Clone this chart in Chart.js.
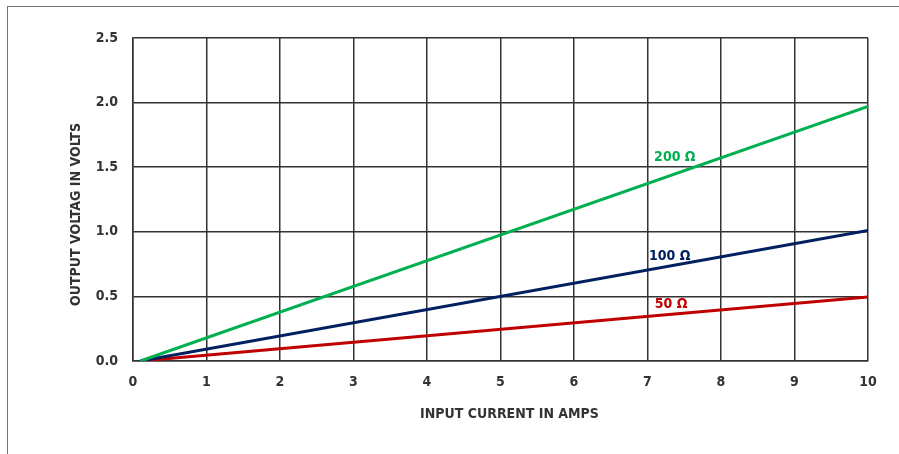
<!DOCTYPE html>
<html>
<head>
<meta charset="utf-8">
<script src="https://cdn.jsdelivr.net/npm/chart.js@4"></script>
<style>
  html, body { margin: 0; padding: 0; background: #fff; }
  #wrap { position: relative; width: 899px; height: 454px; }
  #frame { position: absolute; left: 7px; top: 6px; right: -2px; bottom: -2px;
           border-left: 1.5px solid #777; border-top: 1.5px solid #777; }
  canvas { position: absolute; left: 0; top: 0; }
</style>
</head>
<body>
<div id="wrap">
  <div id="frame"></div>
  <canvas id="c" width="899" height="454"></canvas>
</div>
<script>
// Output voltage vs input current for three load resistors
var CURRENT_X = [0.1, 10];
var V_200 = [0, 1.97];
var V_100 = [0, 1.01];
var V_50 = [0, 0.495];

var SERIES_NAMES = ['200 Ω', '100 Ω', '50 Ω'];
var SERIES_COLORS = ['#00b050', '#002060', '#c00000'];
// label anchor (x, y in data units) for each series name
var LABEL_X = [7.09, 7.02, 7.1];
var LABEL_Y = [1.58, 0.81, 0.44];

var X_TITLE = 'INPUT CURRENT IN AMPS';
var Y_TITLE = 'OUTPUT VOLTAG IN VOLTS';

var FONT = '"Liberation Sans Narrow", "DejaVu Sans Condensed", "Liberation Sans", sans-serif';
var INK = '#333333';

function pts(ys) {
  return ys.map(function (y, i) { return { x: CURRENT_X[i], y: y }; });
}

// series names next to the lines + axis titles placed like the original
var annotations = {
  id: 'annotations',
  afterDatasetsDraw: function (chart) {
    var ctx = chart.ctx, xs = chart.scales.x, ys = chart.scales.y;
    ctx.save();
    ctx.font = 'bold 14px ' + FONT;
    ctx.textAlign = 'left';
    ctx.textBaseline = 'middle';
    SERIES_NAMES.forEach(function (name, i) {
      ctx.fillStyle = SERIES_COLORS[i];
      ctx.fillText(name, xs.getPixelForValue(LABEL_X[i]), ys.getPixelForValue(LABEL_Y[i]));
    });
    ctx.fillStyle = INK;
    ctx.textAlign = 'center';
    ctx.font = 'bold 14px ' + FONT;
    ctx.fillText(X_TITLE, (xs.left + xs.right) / 2 + 9, xs.bottom - 40);
    ctx.translate(76, (ys.top + ys.bottom) / 2 + 15);
    ctx.rotate(-Math.PI / 2);
    ctx.fillText(Y_TITLE, 0, 0);
    ctx.restore();
  }
};

new Chart(document.getElementById('c').getContext('2d'), {
  type: 'scatter',
  data: {
    datasets: [
      { label: SERIES_NAMES[0], data: pts(V_200) },
      { label: SERIES_NAMES[1], data: pts(V_100) },
      { label: SERIES_NAMES[2], data: pts(V_50) }
    ].map(function (d, i) {
      d.showLine = true;
      d.borderColor = SERIES_COLORS[i];
      d.backgroundColor = SERIES_COLORS[i];
      d.borderWidth = 3;
      d.pointRadius = 0;
      return d;
    })
  },
  options: {
    responsive: false,
    animation: false,
    layout: { padding: { top: 38, right: 31, left: 0, bottom: 0 } },
    plugins: { legend: { display: false }, tooltip: { enabled: false } },
    scales: {
      x: {
        type: 'linear', min: 0, max: 10,
        afterFit: function (s) { s.height = 93; },
        grid: { color: INK, lineWidth: 1.5, drawTicks: false },
        border: { color: INK, width: 1.5 },
        ticks: { stepSize: 1, padding: 13, color: INK, font: { family: FONT, size: 14, weight: 'bold' } }
      },
      y: {
        min: 0, max: 2.5,
        afterFit: function (s) { s.width = 133; },
        grid: { color: INK, lineWidth: 1.5, drawTicks: false },
        border: { color: INK, width: 1.5 },
        ticks: { stepSize: 0.5, padding: 15, color: INK,
                 font: { family: FONT, size: 14, weight: 'bold' },
                 callback: function (v) { return v.toFixed(1); } }
      }
    }
  },
  plugins: [annotations]
});
</script>
</body>
</html>
